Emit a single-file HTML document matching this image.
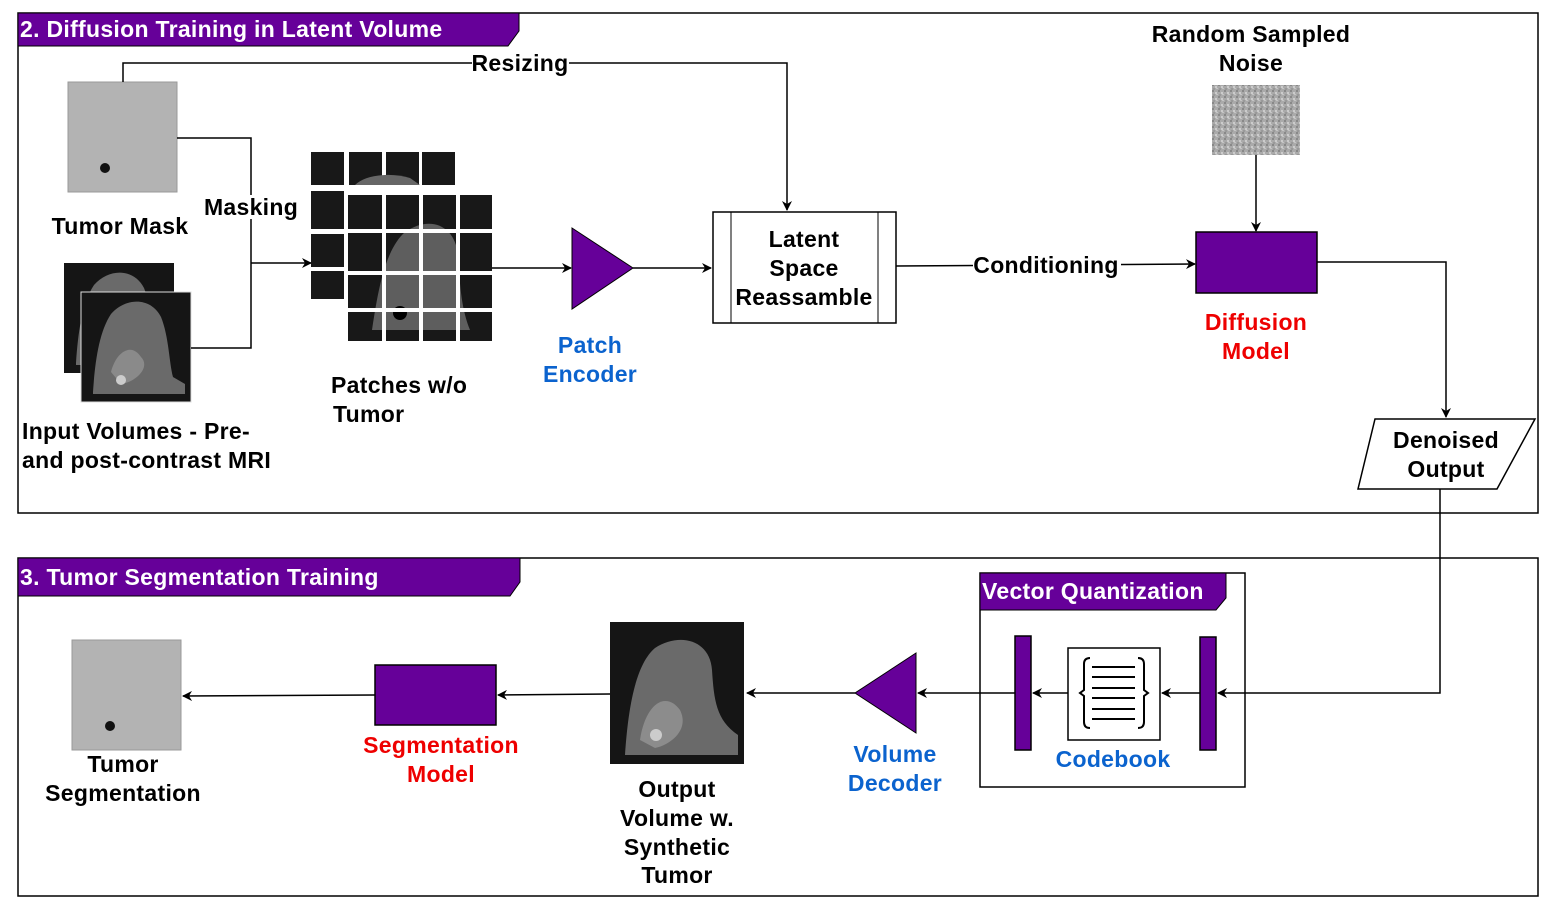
<!DOCTYPE html>
<html><head><style>body{margin:0;background:#fff}svg{display:block}text{font-family:"Liberation Sans",Arial,sans-serif;font-weight:bold;font-size:23px;letter-spacing:0.3px}</style></head><body>
<svg width="1561" height="917" viewBox="0 0 1561 917" xmlns="http://www.w3.org/2000/svg">
<defs>
<marker id="a" markerWidth="10" markerHeight="10" refX="9" refY="5" orient="auto" markerUnits="userSpaceOnUse"><path d="M0,0 L10,5 L0,10 L3,5z" fill="#000"/></marker>
<pattern id="nz" width="6" height="6" patternUnits="userSpaceOnUse"><rect width="6" height="6" fill="#aaa"/><rect x="0" y="0" width="2" height="2" fill="#888"/><rect x="3" y="2" width="2" height="2" fill="#ccc"/><rect x="1" y="4" width="2" height="2" fill="#999"/><rect x="4" y="4" width="2" height="1" fill="#c4c4c4"/></pattern>
<g id="mri"><rect width="110" height="110" fill="#151515"/><path d="M12,100 C14,70 18,40 30,22 C45,5 70,5 80,25 C88,45 88,70 92,85 L104,92 L104,102 L12,102Z" fill="#6a6a6a"/><path d="M30,80 C35,60 50,50 60,65 C70,75 55,90 40,92Z" fill="#8a8a8a"/><circle cx="40" cy="88" r="5" fill="#ccc"/></g>
</defs>
<g fill="none" stroke="#000" stroke-width="1.5">
<rect x="18" y="13" width="1520" height="500"/>
<rect x="18" y="558" width="1520" height="338"/>
</g>
<polygon points="18,13 519,13 519,31 508,46 18,46" fill="#660099" stroke="#000"/>
<text x="20" y="37" fill="#fff">2. Diffusion Training in Latent Volume</text>
<polygon points="18,558 520,558 520,582 510,596 18,596" fill="#660099" stroke="#000"/>
<text x="20" y="585" fill="#fff">3. Tumor Segmentation Training</text>

<rect x="68" y="82" width="109" height="110" fill="#b3b3b3" stroke="#999"/>
<circle cx="105" cy="168" r="5" fill="#111"/>
<text x="120" y="234" text-anchor="middle">Tumor Mask</text>
<use href="#mri" x="64" y="263"/>
<use href="#mri" x="81" y="292"/>
<rect x="81" y="292" width="110" height="110" fill="none" stroke="#ddd"/>
<text x="22" y="439">Input Volumes - Pre-</text>
<text x="22" y="468">and post-contrast MRI</text>

<g fill="none" stroke="#000" stroke-width="1.5">
<polyline points="123,82 123,63 787,63 787,210" marker-end="url(#a)"/>
<polyline points="177,138 251,138 251,348 191,348"/>
<line x1="251" y1="263" x2="311" y2="263" marker-end="url(#a)"/>
<line x1="492" y1="268" x2="571" y2="268" marker-end="url(#a)"/>
<line x1="633" y1="268" x2="711" y2="268" marker-end="url(#a)"/>
<line x1="896" y1="266" x2="1195" y2="264" marker-end="url(#a)"/>
<line x1="1256" y1="155" x2="1256" y2="231" marker-end="url(#a)"/>
<polyline points="1317,262 1446,262 1446,417" marker-end="url(#a)"/>
<polyline points="1440,489 1440,693 1218,693" marker-end="url(#a)"/>
<line x1="1200" y1="693" x2="1162" y2="693" marker-end="url(#a)"/>
<line x1="1068" y1="693" x2="1033" y2="693" marker-end="url(#a)"/>
<line x1="1015" y1="693" x2="918" y2="693" marker-end="url(#a)"/>
<line x1="855" y1="693" x2="747" y2="693" marker-end="url(#a)"/>
<line x1="610" y1="694" x2="498" y2="695" marker-end="url(#a)"/>
<line x1="375" y1="695" x2="183" y2="696" marker-end="url(#a)"/>
</g>
<rect x="472" y="52" width="97" height="24" fill="#fff"/>
<text x="520" y="71" text-anchor="middle">Resizing</text>
<rect x="203" y="195" width="96" height="24" fill="#fff"/>
<text x="251" y="215" text-anchor="middle">Masking</text>
<rect x="973" y="254" width="148" height="24" fill="#fff"/>
<text x="1046" y="273" text-anchor="middle">Conditioning</text>

<g fill="#181818">
<rect x="311" y="152" width="33" height="33"/><rect x="349" y="152" width="33" height="33"/><rect x="386" y="152" width="33" height="33"/><rect x="422" y="152" width="33" height="33"/>
<rect x="311" y="191" width="33" height="38"/><rect x="311" y="234" width="33" height="33"/><rect x="311" y="271" width="33" height="28"/>
</g>
<path d="M355,185 C365,175 390,172 410,178 L420,185Z" fill="#666"/>
<rect x="348" y="195" width="144" height="146" fill="#181818"/>
<path d="M372,330 C378,290 385,250 405,232 C430,215 455,225 458,255 C460,290 462,310 470,330Z" fill="#5e5e5e"/>
<circle cx="400" cy="313" r="7" fill="#000"/>
<g stroke="#fff" stroke-width="4">
<line x1="384" y1="195" x2="384" y2="341"/><line x1="421" y1="195" x2="421" y2="341"/><line x1="458" y1="195" x2="458" y2="341"/>
<line x1="348" y1="231" x2="492" y2="231"/><line x1="348" y1="273" x2="492" y2="273"/><line x1="348" y1="310" x2="492" y2="310"/>
</g>
<text x="331" y="393">Patches w/o</text>
<text x="333" y="422">Tumor</text>

<polygon points="572,228 572,309 633,268" fill="#660099" stroke="#000"/>
<g fill="#0b63ce" text-anchor="middle"><text x="590" y="353">Patch</text><text x="590" y="382">Encoder</text></g>

<rect x="713" y="212" width="183" height="111" fill="#fff" stroke="#000" stroke-width="1.5"/>
<line x1="731" y1="212" x2="731" y2="323" stroke="#000"/><line x1="878" y1="212" x2="878" y2="323" stroke="#000"/>
<g text-anchor="middle"><text x="804" y="247">Latent</text><text x="804" y="276">Space</text><text x="804" y="305">Reassamble</text></g>

<text x="1251" y="42" text-anchor="middle">Random Sampled</text>
<text x="1251" y="71" text-anchor="middle">Noise</text>
<rect x="1212" y="85" width="88" height="70" fill="url(#nz)"/>
<rect x="1196" y="232" width="121" height="61" fill="#660099" stroke="#000" stroke-width="1.5"/>
<g fill="#ee0000" text-anchor="middle"><text x="1256" y="330">Diffusion</text><text x="1256" y="359">Model</text></g>

<polygon points="1375,419 1535,419 1497,489 1358,489" fill="#fff" stroke="#000" stroke-width="1.5"/>
<g text-anchor="middle"><text x="1446" y="448">Denoised</text><text x="1446" y="477">Output</text></g>

<rect x="980" y="573" width="265" height="214" fill="none" stroke="#000" stroke-width="1.5"/>
<polygon points="980,573 1226,573 1226,598 1216,610 980,610" fill="#660099" stroke="#000"/>
<text x="982" y="599" fill="#fff">Vector Quantization</text>
<rect x="1015" y="636" width="16" height="114" fill="#660099" stroke="#000" stroke-width="1.5"/>
<rect x="1200" y="637" width="16" height="113" fill="#660099" stroke="#000" stroke-width="1.5"/>
<rect x="1068" y="648" width="92" height="92" fill="#fff" stroke="#000" stroke-width="1.5"/>
<g stroke="#000" stroke-width="2" fill="none">
<line x1="1092" y1="667" x2="1135" y2="667"/><line x1="1092" y1="677" x2="1135" y2="677"/><line x1="1092" y1="688" x2="1135" y2="688"/><line x1="1092" y1="698" x2="1135" y2="698"/><line x1="1092" y1="709" x2="1135" y2="709"/><line x1="1092" y1="719" x2="1135" y2="719"/>
<path d="M1090,658 Q1084,658 1084,664 L1084,690 L1080,693 L1084,696 L1084,722 Q1084,728 1090,728"/>
<path d="M1138,658 Q1144,658 1144,664 L1144,690 L1148,693 L1144,696 L1144,722 Q1144,728 1138,728"/>
</g>
<text x="1113" y="767" text-anchor="middle" fill="#0b63ce">Codebook</text>

<polygon points="916,653 916,733 855,693" fill="#660099" stroke="#000"/>
<g fill="#0b63ce" text-anchor="middle"><text x="895" y="762">Volume</text><text x="895" y="791">Decoder</text></g>

<rect x="610" y="622" width="134" height="142" fill="#151515"/>
<path d="M625,755 C628,710 635,665 655,648 C680,632 710,640 712,670 C714,700 716,720 738,735 L738,755Z" fill="#6a6a6a"/>
<path d="M640,740 C645,705 665,690 680,710 C690,730 670,745 655,748Z" fill="#8c8c8c"/>
<circle cx="656" cy="735" r="6" fill="#ccc"/>
<g text-anchor="middle"><text x="677" y="797">Output</text><text x="677" y="826">Volume w.</text><text x="677" y="855">Synthetic</text><text x="677" y="883">Tumor</text></g>

<rect x="375" y="665" width="121" height="60" fill="#660099" stroke="#000" stroke-width="1.5"/>
<g fill="#ee0000" text-anchor="middle"><text x="441" y="753">Segmentation</text><text x="441" y="782">Model</text></g>

<rect x="72" y="640" width="109" height="110" fill="#b3b3b3" stroke="#999"/>
<circle cx="110" cy="726" r="5" fill="#111"/>
<g text-anchor="middle"><text x="123" y="772">Tumor</text><text x="123" y="801">Segmentation</text></g>
</svg>
</body></html>
